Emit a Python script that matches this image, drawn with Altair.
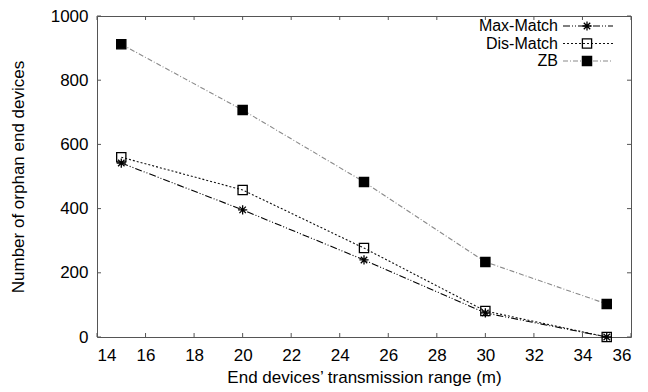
import altair as alt
import pandas as pd

# ---- data ----
ranges = [15, 20, 25, 30, 35]
series_names = ["Max-Match", "Dis-Match", "ZB"]
max_match = [542, 396, 240, 75, 0]
dis_match = [560, 458, 277, 81, 0]
zb = [912, 707, 483, 234, 103]
x_ticks = [14, 16, 18, 20, 22, 24, 26, 28, 30, 32, 34, 36]
y_ticks = [0, 200, 400, 600, 800, 1000]

rows = []
for name, vals in zip(series_names, [max_match, dis_match, zb]):
    for r, v in zip(ranges, vals):
        rows.append({"range": r, "orphans": v, "series": name})
df = pd.DataFrame(rows)
legend_df = pd.DataFrame({"series": series_names})
xt_df = pd.DataFrame({"t": x_ticks})
yt_df = pd.DataFrame({"t": y_ticks})

W, H = 534, 321
FONT = "Liberation Sans"
FS = 17
LEG_FS = 16
TICK = 4
FRAME = "#555555"
ASTERISK = "M-1,0L1,0M0,-1L0,1M-0.7,-0.7L0.7,0.7M-0.7,0.7L0.7,-0.7"

xscale = alt.Scale(domain=[14, 36], nice=False, zero=False)
yscale = alt.Scale(domain=[0, 1000], nice=False)
dash_scale = alt.Scale(domain=series_names, range=[[7, 2, 1, 2, 1, 2], [2, 2], [5, 2, 1, 2]])
stroke_scale = alt.Scale(domain=series_names, range=["#000000", "#111111", "#8a8a8a"])
shape_scale = alt.Scale(domain=series_names, range=[ASTERISK, "square", "square"])
fill_scale = alt.Scale(domain=series_names, range=["transparent", "transparent", "#000000"])

base = alt.Chart(df)

lines = base.mark_line(strokeWidth=1.1).encode(
    x=alt.X("range:Q", scale=xscale,
            axis=alt.Axis(values=x_ticks, title="End devices’ transmission range (m)",
                          tickSize=0, labelPadding=10, titlePadding=6, domain=False, grid=False)),
    y=alt.Y("orphans:Q", scale=yscale,
            axis=alt.Axis(values=y_ticks, title="Number of orphan end devices", format="d",
                          tickSize=0, labelPadding=9, titlePadding=23, domain=False, grid=False)),
    stroke=alt.Stroke("series:N", scale=stroke_scale, legend=None),
    strokeDash=alt.StrokeDash("series:N", scale=dash_scale, legend=None),
    detail="series:N",
)

points = base.mark_point(filled=True, stroke="black", strokeWidth=1.3, size=85, opacity=1).encode(
    x=alt.X("range:Q", scale=xscale, axis=None),
    y=alt.Y("orphans:Q", scale=yscale, axis=None),
    shape=alt.Shape("series:N", scale=shape_scale, legend=None),
    fill=alt.Fill("series:N", scale=fill_scale, legend=None),
)

# inward tick marks on all four sides (gnuplot style)
xt = alt.Chart(xt_df)
yt = alt.Chart(yt_df)
tick_style = dict(color=FRAME, strokeWidth=1)
ticks_bottom = xt.mark_rule(**tick_style).encode(
    x=alt.X("t:Q", scale=xscale, axis=None), y=alt.value(H), y2=alt.value(H - TICK))
ticks_top = xt.mark_rule(**tick_style).encode(
    x=alt.X("t:Q", scale=xscale, axis=None), y=alt.value(0), y2=alt.value(TICK))
ticks_left = yt.mark_rule(**tick_style).encode(
    y=alt.Y("t:Q", scale=yscale, axis=None), x=alt.value(0), x2=alt.value(TICK))
ticks_right = yt.mark_rule(**tick_style).encode(
    y=alt.Y("t:Q", scale=yscale, axis=None), x=alt.value(W), x2=alt.value(W - TICK))

leg_y = alt.Y("series:N", scale=alt.Scale(type="point", domain=series_names, range=[10, 45], padding=0),
              axis=None)
leg_base = alt.Chart(legend_df)
leg_text = leg_base.mark_text(align="right", baseline="middle", fontSize=LEG_FS, font=FONT, color="black").encode(
    x=alt.value(461), y=leg_y, text="series:N")
leg_rule = leg_base.mark_rule(strokeWidth=1.1).encode(
    x=alt.value(466), x2=alt.value(516), y=leg_y,
    stroke=alt.Stroke("series:N", scale=stroke_scale, legend=None),
    strokeDash=alt.StrokeDash("series:N", scale=dash_scale, legend=None))
leg_pts = leg_base.mark_point(filled=True, stroke="black", strokeWidth=1.3, size=85, opacity=1).encode(
    x=alt.value(490), y=leg_y,
    shape=alt.Shape("series:N", scale=shape_scale, legend=None),
    fill=alt.Fill("series:N", scale=fill_scale, legend=None))

chart = alt.layer(
    ticks_bottom, ticks_top, ticks_left, ticks_right,
    lines, points, leg_text, leg_rule, leg_pts
).resolve_scale(
    x="independent", y="independent"
).resolve_axis(
    x="independent", y="independent"
).properties(
    width=W, height=H,
    background="white",
    padding={"left": 97, "top": 16, "right": 17, "bottom": 55},
    autosize=alt.AutoSizeParams(type="none"),
).configure_view(
    stroke=FRAME, strokeWidth=1
).configure_axis(
    labelFont=FONT, titleFont=FONT, labelFontSize=FS, titleFontSize=FS,
    labelColor="black", titleColor="black", titleFontWeight="normal",
)

chart.save("out.html", embed_options={"renderer": "svg", "actions": False})
